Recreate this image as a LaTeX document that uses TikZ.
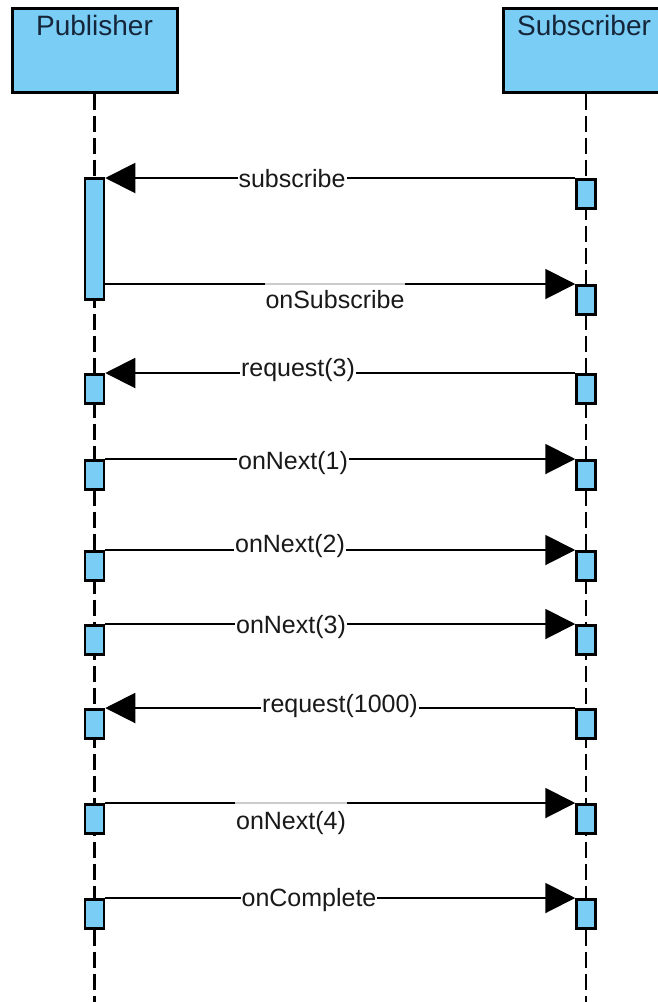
\documentclass[tikz,border=0pt]{standalone}
\usepackage{fontspec}
\setmainfont{Liberation Sans}
\usetikzlibrary{arrows.meta}
\definecolor{boxblue}{RGB}{122,205,245}
\definecolor{headtext}{RGB}{22,38,58}
\begin{document}
\begin{tikzpicture}[x=1pt,y=-1pt,
  head/.style={draw=black, line width=3pt, fill=boxblue, minimum width=165pt, minimum height=84pt, inner sep=0pt},
  headlbl/.style={anchor=base, inner sep=0pt, text=headtext, font=\fontsize{28}{32}\selectfont},
  act/.style={draw=black, line width=2.5pt, fill=boxblue, minimum width=19pt, minimum height=29pt, inner sep=0pt, anchor=north},
  life/.style={line width=2.5pt, dash pattern=on 16pt off 6pt},
  msg/.style={line width=2pt, -{Triangle[length=30pt,width=30pt]}},
  lbl/.style={anchor=base, fill=white, inner xsep=1pt, inner ysep=0pt, text=black!90, font=\fontsize{25}{30}\selectfont},
  lblbelow/.style={lbl, fill opacity=0.8, text opacity=1, text height=27pt}
]
\useasboundingbox (0,0) rectangle (658,1002);
\clip (0,0) rectangle (658,1002);
% heads
\node[head] (pub) at (94.5,50) {};
\node[head] (sub) at (586,50) {};
\node[headlbl] (pubt) at (94.5,35) {Publisher};
\node[headlbl] (subt) at (584,35) {Subscriber};
% lifelines
\draw[life] (pub.south) -- (pub.south |- 0,1006);
\draw[life] (sub.south) -- (sub.south |- 0,1006);
% activations
\node[act, minimum height=121pt] (p0) at (94.5,177) {};
\node[act] (s1) at (586,178) {};
\node[act] (s2) at (586,284) {};
\node[act] (p3) at (94.5,373) {};
\node[act] (s3) at (586,373) {};
\node[act] (p4) at (94.5,459) {};
\node[act] (s4) at (586,459) {};
\node[act] (p5) at (94.5,550) {};
\node[act] (s5) at (586,550) {};
\node[act] (p6) at (94.5,624) {};
\node[act] (s6) at (586,624) {};
\node[act] (p7) at (94.5,708) {};
\node[act] (s7) at (586,708) {};
\node[act] (p8) at (94.5,803) {};
\node[act] (s8) at (586,803) {};
\node[act] (p9) at (94.5,898) {};
\node[act] (s9) at (586,898) {};
% messages
\draw[msg] (s1.north west) -- (p0.east |- s1.north west);
\draw[msg] (p0.east |- s2.north west) -- (s2.north west);
\draw[msg] (s3.north west) -- (p3.north east);
\draw[msg] (p4.north east) -- (s4.north west);
\draw[msg] (p5.north east) -- (s5.north west);
\draw[msg] (p6.north east) -- (s6.north west);
\draw[msg] (s7.north west) -- (p7.north east);
\draw[msg] (p8.north east) -- (s8.north west);
\draw[msg] (p9.north east) -- (s9.north west);
% labels
\node[lbl] (l1) at (292,187) {subscribe};
\node[lblbelow] (l2) at (335,308) {onSubscribe};
\node[lbl] (l3) at (298,376) {request(3)};
\node[lbl] (l4) at (293,469) {onNext(1)};
\node[lbl] (l5) at (290,552) {onNext(2)};
\node[lbl] (l6) at (291,633) {onNext(3)};
\node[lbl] (l7) at (340,712) {request(1000)};
\node[lblbelow] (l8) at (291,829) {onNext(4)};
\node[lbl] (l9) at (309,906) {onComplete};
\end{tikzpicture}
\end{document}
